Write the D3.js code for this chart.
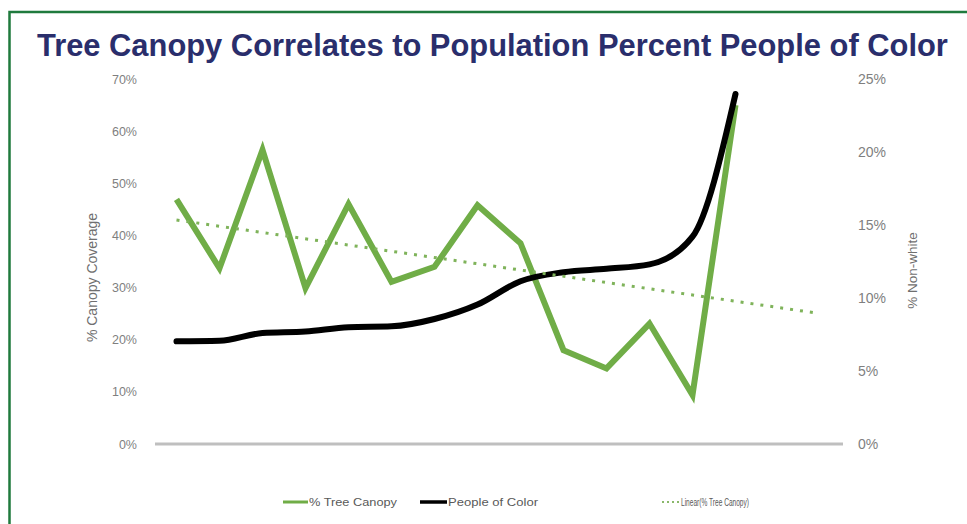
<!DOCTYPE html>
<html>
<head>
<meta charset="utf-8">
<script src="https://cdn.jsdelivr.net/npm/d3@7"></script>
<style>
  html, body { margin: 0; padding: 0; background: #fff; }
  svg { display: block; }
  text { font-family: "Liberation Sans", Arial, sans-serif; }
</style>
</head>
<body>
<svg id="chart" width="967" height="524"></svg>
<script>
// Neighbourhood groups, ordered by share of people of color
const groups = d3.range(1, 15);
// % tree canopy coverage per group (left axis)
const canopy = [0.469, 0.337, 0.564, 0.299, 0.460, 0.311, 0.340, 0.458, 0.385, 0.180, 0.145, 0.231, 0.094, 0.650];
// % non-white population per group (right axis)
const nonWhite = [0.0703, 0.0707, 0.0760, 0.0770, 0.0800, 0.0806, 0.0856, 0.0955, 0.1115, 0.1177, 0.1200, 0.1230, 0.1420, 0.2397];
// Trendline forward forecast, in groups
const trendForward = 1.8;
const leftTicks = [0, 0.1, 0.2, 0.3, 0.4, 0.5, 0.6, 0.7];
const rightTicks = [0, 0.05, 0.1, 0.15, 0.2, 0.25];
const seriesNames = ["% Tree Canopy", "People of Color", "Linear(% Tree Canopy)"];
const titleText = "Tree Canopy Correlates to Population Percent People of Color";

const svg = d3.select("#chart");
const W = 967, H = 524;
const green = "#70ad47";
const axisGrey = "#7f7f7f";

svg.append("rect").attr("width", W).attr("height", H).attr("fill", "#fff");

// Frame
svg.append("path")
  .attr("d", "M9.5," + H + "V12H" + W)
  .attr("fill", "none")
  .attr("stroke", "#1f7a3d")
  .attr("stroke-width", 2.5);

// Title: bold face squeezed horizontally to a condensed look
const title = svg.append("text")
  .attr("x", 0).attr("y", 0)
  .attr("font-family", "'Open Sans', sans-serif")
  .attr("font-weight", 700)
  .attr("font-size", 32)
  .attr("fill", "#2a2e6c")
  .text(titleText);
const titleW = title.node().getComputedTextLength();
title.attr("transform", "translate(37,56) scale(" + (911 / titleW) + ",1)");

// Scales
const x = d3.scaleLinear().domain([-0.5, groups.length + 1.5]).range([155, 843]);
const yL = d3.scaleLinear().domain([0, 0.7]).range([444, 79]);
const yR = d3.scaleLinear().domain([0, 0.25]).range([444, 79]);
const pct = d3.format(".0%");

// Left axis labels
const leftAxis = d3.axisLeft(yL).tickValues(leftTicks).tickFormat(pct).tickSize(0).tickPadding(0);
const gL = svg.append("g").attr("transform", "translate(137,0)").call(leftAxis);
gL.select(".domain").remove();
gL.selectAll("text").attr("fill", axisGrey).attr("font-size", 12.5).attr("font-family", "'Liberation Sans', Arial, sans-serif");

// Right axis labels
const rightAxis = d3.axisRight(yR).tickValues(rightTicks).tickFormat(pct).tickSize(0).tickPadding(0);
const gR = svg.append("g").attr("transform", "translate(858,0)").call(rightAxis);
gR.select(".domain").remove();
gR.selectAll("text").attr("fill", axisGrey).attr("font-size", 14).attr("font-family", "'Liberation Sans', Arial, sans-serif");

// Axis titles
svg.append("text")
  .attr("transform", "translate(97," + ((yL(0) + yL(0.7)) / 2 + 16) + ") rotate(-90)")
  .attr("text-anchor", "middle")
  .attr("font-size", 14).attr("fill", "#6f6f6f")
  .text("% Canopy Coverage");
svg.append("text")
  .attr("transform", "translate(917," + ((yR(0) + yR(0.25)) / 2 + 9) + ") rotate(-90)")
  .attr("text-anchor", "middle")
  .attr("font-size", 13.5).attr("fill", "#6f6f6f")
  .text("% Non-white");

// Category axis baseline
svg.append("line")
  .attr("x1", x.range()[0]).attr("x2", x.range()[1])
  .attr("y1", yL(0)).attr("y2", yL(0))
  .attr("stroke", "#bfbfbf").attr("stroke-width", 3);

// Tree canopy series
const canopyLine = d3.line().x((d, i) => x(i)).y(d => yL(d));
svg.append("path")
  .datum(canopy)
  .attr("d", canopyLine)
  .attr("fill", "none")
  .attr("stroke", green)
  .attr("stroke-width", 6)
  .attr("stroke-linejoin", "miter");

// People of color series (smoothed)
const pocLine = d3.line().x((d, i) => x(i)).y(d => yR(d)).curve(d3.curveMonotoneX);
svg.append("path")
  .datum(nonWhite)
  .attr("d", pocLine)
  .attr("fill", "none")
  .attr("stroke", "#000")
  .attr("stroke-width", 6)
  .attr("stroke-linecap", "round")
  .attr("stroke-linejoin", "round");

// Least-squares trend of the canopy series
const n = canopy.length;
const mx = d3.mean(canopy, (d, i) => i);
const my = d3.mean(canopy);
const slope = d3.sum(canopy, (d, i) => (i - mx) * (d - my)) / d3.sum(canopy, (d, i) => (i - mx) * (i - mx));
const icpt = my - slope * mx;
const trendEnds = [0, n - 1 + trendForward];
svg.append("path")
  .datum(trendEnds)
  .attr("d", d3.line().x(t => x(t)).y(t => yL(icpt + slope * t)))
  .attr("fill", "none")
  .attr("stroke", "#7fb35a")
  .attr("stroke-width", 3)
  .attr("stroke-dasharray", "3 7");

// Legend
const legendY = 502;
const legendItems = [
  { name: seriesNames[0], x0: 283, w: 25, tx: 309, tw: 88, stroke: green, width: 3, dash: null },
  { name: seriesNames[1], x0: 420, w: 27, tx: 448, tw: 90, stroke: "#000", width: 3.5, dash: null },
  { name: seriesNames[2], x0: 662, w: 17, tx: 681, tw: 68, stroke: "#8ab86a", width: 2, dash: "2 3" }
];
const lg = svg.append("g");
legendItems.forEach(it => {
  lg.append("line")
    .attr("x1", it.x0).attr("x2", it.x0 + it.w)
    .attr("y1", legendY).attr("y2", legendY)
    .attr("stroke", it.stroke).attr("stroke-width", it.width)
    .attr("stroke-dasharray", it.dash);
  lg.append("text")
    .attr("x", it.tx).attr("y", legendY + 4)
    .attr("textLength", it.tw)
    .attr("lengthAdjust", "spacingAndGlyphs")
    .attr("font-size", 11).attr("fill", "#595959")
    .text(it.name);
});
</script>
</body>
</html>
